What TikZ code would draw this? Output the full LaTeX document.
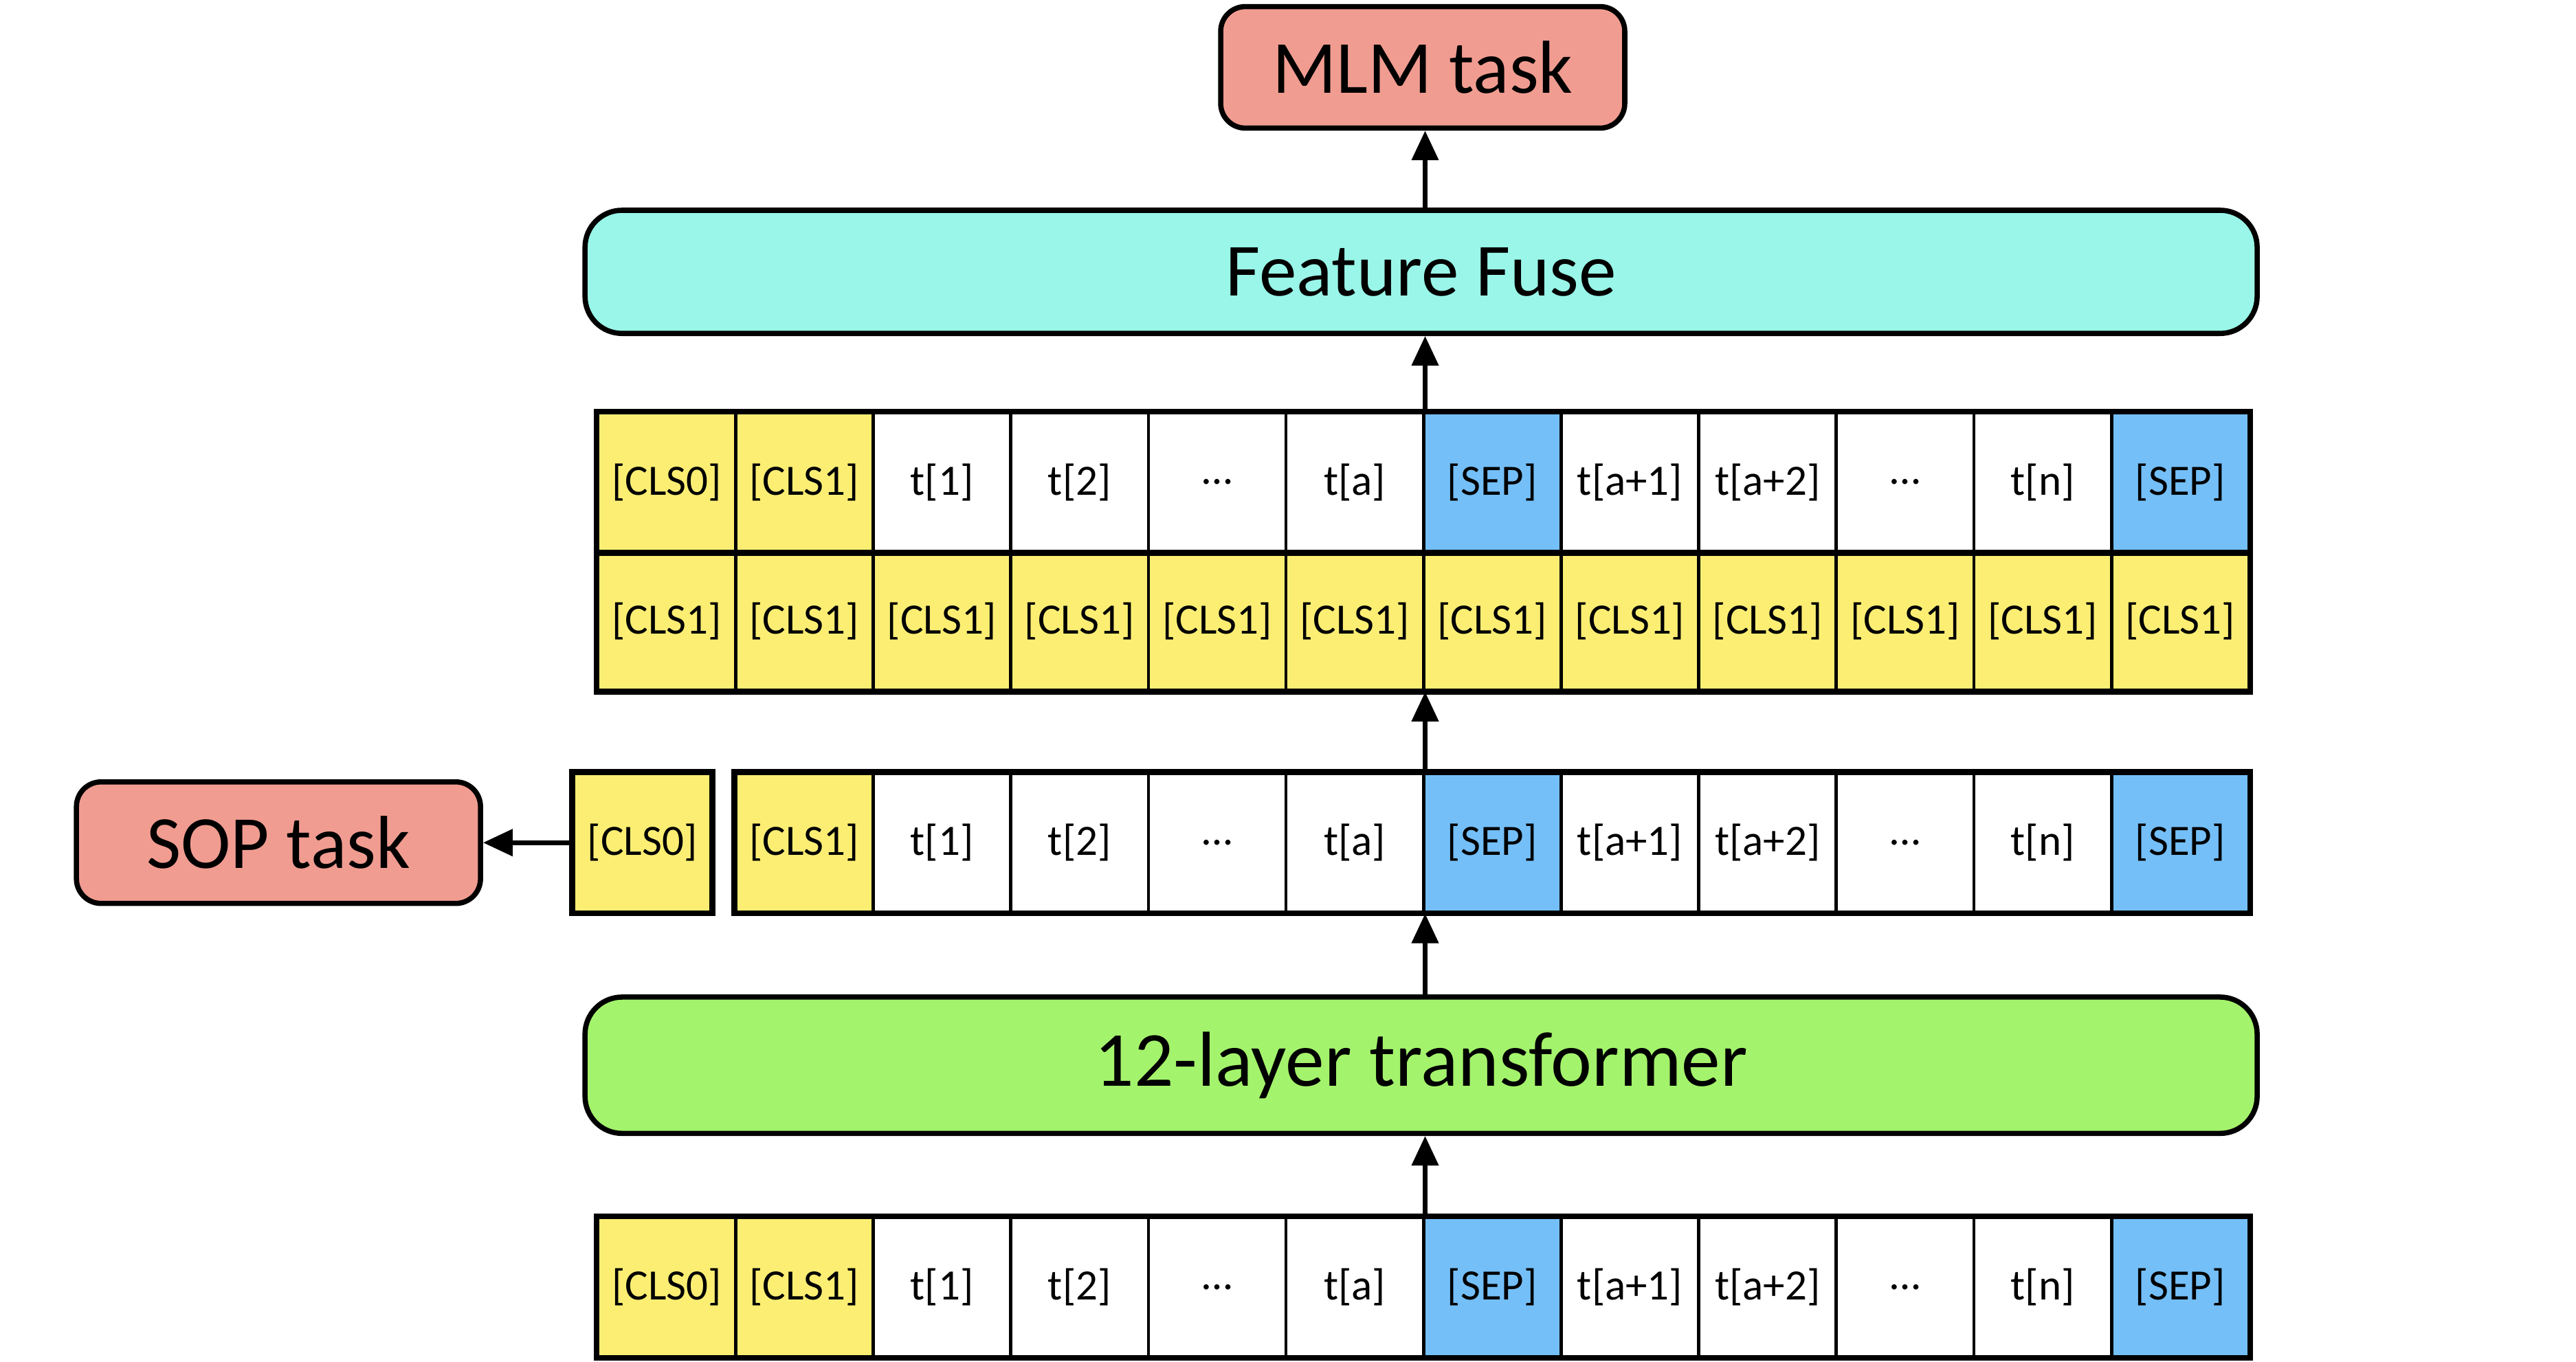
\documentclass[tikz,border=0pt]{standalone}
\usepackage{fontspec}
\setmainfont{Carlito}
\usetikzlibrary{arrows.meta}
\definecolor{salmon}{HTML}{F19C91}
\definecolor{fusecol}{HTML}{99F6E8}
\definecolor{transcol}{HTML}{A4F36C}
\definecolor{clscol}{HTML}{FBEE73}
\definecolor{sepcol}{HTML}{74BFF8}
\tikzset{
  bigbox/.style={draw=black, line width=1.8pt, rounded corners=0.45cm, inner sep=0pt, font=\fontsize{26}{30}\selectfont},
  taskbox/.style={bigbox, fill=salmon, minimum width=4.92cm, minimum height=1.48cm, rounded corners=0.3cm},
  cell/.style={draw=black, line width=1.1pt, minimum width=1.675cm, minimum height=1.69cm, inner sep=0pt, font=\fontsize{15}{18}\selectfont},
  clscell/.style={cell, fill=clscol},
  sepcell/.style={cell, fill=sepcol},
  tokcell/.style={cell, fill=white},
  outline/.style={draw=black, line width=1.8pt},
  flow/.style={draw=black, line width=1.6pt, -{Triangle[length=0.36cm, width=0.32cm]}},
}
\begin{document}
\begin{tikzpicture}[x=0.02cm, y=-0.02cm]
\useasboundingbox (0,0) rectangle (1568,829);
% big boxes
\node[taskbox] (mlm) at (866,41) {MLM task};
\node[bigbox, fill=fusecol, minimum width=20.36cm, minimum height=1.5cm] (fuse) at (865,165.5) {Feature Fuse};
\node[bigbox, fill=transcol, minimum width=20.36cm, minimum height=1.66cm, font=\fontsize{27}{31}\selectfont] (trans) at (865,648.5) {12-layer transformer};
\node[taskbox] (sop) at (169.5,513) {SOP task};
% top grid row 1 and bottom row
\foreach \i/\t/\s in {1/[CLS0]/clscell, 2/[CLS1]/clscell, 3/t[1]/tokcell, 4/t[2]/tokcell, 5/…/tokcell, 6/t[a]/tokcell, 7/[SEP]/sepcell, 8/t[a+1]/tokcell, 9/t[a+2]/tokcell, 10/…/tokcell, 11/t[n]/tokcell, 12/[SEP]/sepcell}{
  \node[\s] (a\i) at ({364+41.875+(\i-1)*83.75},293.5) {\t};
  \node[\s] (c\i) at ({364+41.875+(\i-1)*83.75},783.5) {\t};
}
% top grid row 2
\foreach \i in {1,...,12}{
  \node[clscell] (b\i) at ({364+41.875+(\i-1)*83.75},378) {[CLS1]};
}
% middle row
\node[clscell] (m1) at (391,513) {[CLS0]};
\foreach \i/\t/\s in {2/[CLS1]/clscell, 3/t[1]/tokcell, 4/t[2]/tokcell, 5/…/tokcell, 6/t[a]/tokcell, 7/[SEP]/sepcell, 8/t[a+1]/tokcell, 9/t[a+2]/tokcell, 10/…/tokcell, 11/t[n]/tokcell, 12/[SEP]/sepcell}{
  \node[\s] (m\i) at ({364+41.875+(\i-1)*83.75},513) {\t};
}
% outlines
\draw[outline] (a1.north west) rectangle (b12.south east);
\draw[outline] (a1.south west) -- (a12.south east);
\draw[outline] (m1.north west) rectangle (m1.south east);
\draw[outline] (m2.north west) rectangle (m12.south east);
\draw[outline] (c1.north west) rectangle (c12.south east);
% arrows
\draw[flow] (c6.north east) -- (c6.north east |- trans.south);
\draw[flow] (c6.north east |- trans.north) -- (m6.south east);
\draw[flow] (m6.north east) -- (b6.south east);
\draw[flow] (a6.north east) -- (a6.north east |- fuse.south);
\draw[flow] (a6.north east |- fuse.north) -- (a6.north east |- mlm.south);
\draw[flow] (m1.west) -- (sop.east);
\end{tikzpicture}
\end{document}
